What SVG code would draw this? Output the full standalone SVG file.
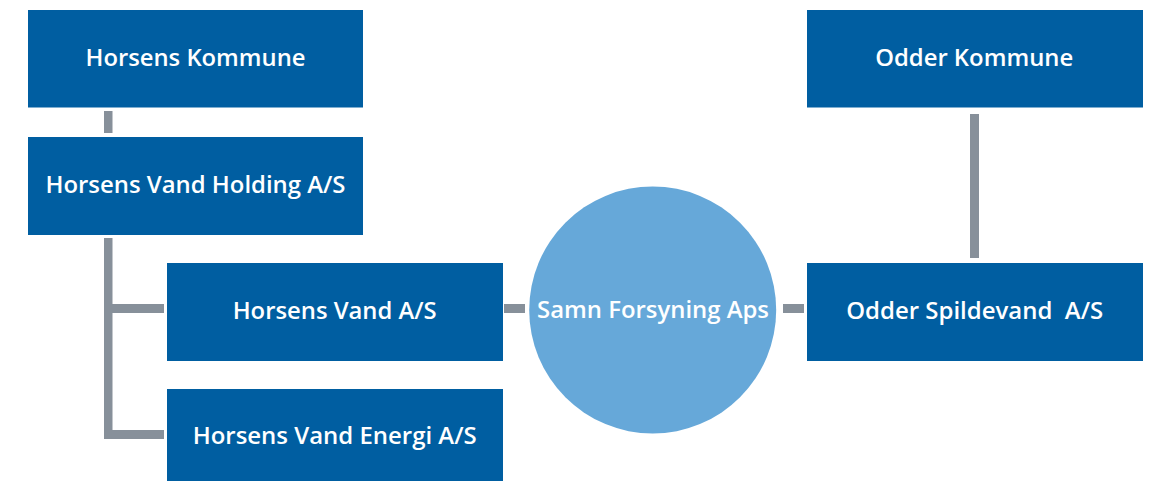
<svg xmlns="http://www.w3.org/2000/svg" width="1152" height="481" viewBox="0 0 1152 481">
<style>
.box{fill:#005ea1}
.lbl{fill:#ffffff;font-family:"Open Sans","Noto Sans","Liberation Sans",sans-serif;font-weight:600;font-size:23px;text-anchor:middle;white-space:pre}
.con{fill:#87909a}
</style>
<rect width="1152" height="481" fill="#ffffff"/>
<g id="connectors">
<rect class="con" x="104" y="111" width="8.5" height="22"/>
<rect class="con" x="104" y="238" width="8.5" height="201"/>
<rect class="con" x="104" y="304" width="60" height="9"/>
<rect class="con" x="104" y="430" width="60" height="9"/>
<rect class="con" x="504" y="304" width="21" height="9"/>
<rect class="con" x="783" y="304" width="21" height="9"/>
<rect class="con" x="970" y="114" width="9" height="144"/>
</g>
<g id="horsens-kommune"><rect class="box" x="28" y="10" width="335" height="97.5"/><text class="lbl" x="195.5" y="66" textLength="220" lengthAdjust="spacingAndGlyphs">Horsens Kommune</text></g>
<g id="horsens-vand-holding"><rect class="box" x="28" y="137" width="335" height="98"/><text class="lbl" x="195.5" y="192.5" textLength="300" lengthAdjust="spacingAndGlyphs">Horsens Vand Holding A/S</text></g>
<g id="horsens-vand"><rect class="box" x="167" y="263" width="336" height="98"/><text class="lbl" x="334.7" y="318.5" textLength="204" lengthAdjust="spacingAndGlyphs">Horsens Vand A/S</text></g>
<g id="horsens-vand-energi"><rect class="box" x="167" y="389" width="336" height="92"/><text class="lbl" x="334.7" y="443.5" textLength="284" lengthAdjust="spacingAndGlyphs">Horsens Vand Energi A/S</text></g>
<g id="samn-forsyning"><circle cx="652.7" cy="310" r="123.5" fill="#66a8d9"/><text class="lbl" x="653" y="317.5" textLength="232" lengthAdjust="spacingAndGlyphs">Samn Forsyning Aps</text></g>
<g id="odder-kommune"><rect class="box" x="807" y="10" width="336" height="97.5"/><text class="lbl" x="974.2" y="66" textLength="198" lengthAdjust="spacingAndGlyphs">Odder Kommune</text></g>
<g id="odder-spildevand"><rect class="box" x="807" y="263" width="336" height="98"/><text class="lbl" x="974.7" y="318.5" textLength="257" lengthAdjust="spacingAndGlyphs">Odder Spildevand  A/S</text></g>
</svg>
